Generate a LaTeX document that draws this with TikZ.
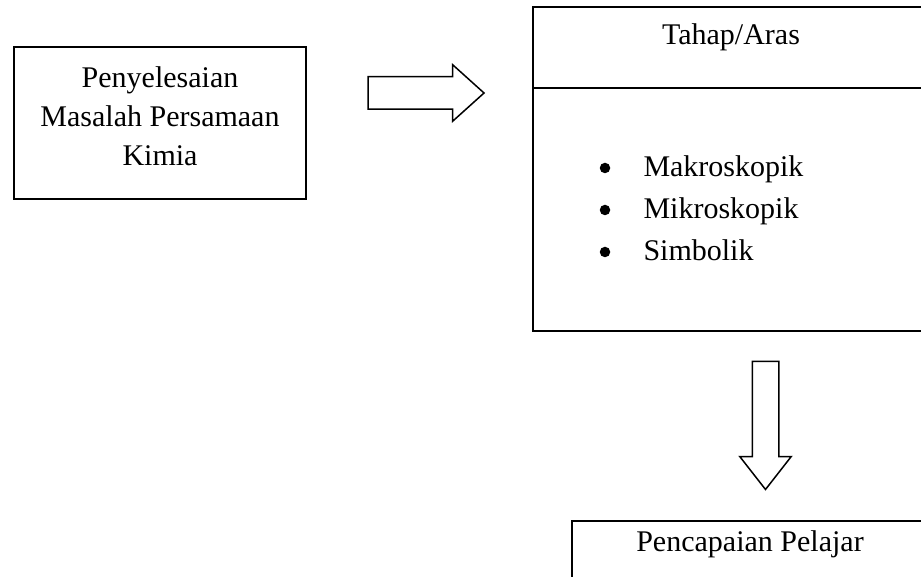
\documentclass[tikz,border=0pt]{standalone}
\usepackage{fontspec}
\setmainfont{Liberation Serif}
\usetikzlibrary{positioning}
\usetikzlibrary{shapes.arrows}

\begin{document}
\begin{tikzpicture}[x=0.4pt, y=-0.4pt,
  font=\fontsize{12}{15.6}\selectfont,
  box/.style={draw, line width=.6pt, inner sep=0, outer sep=0},
  txt/.style={inner sep=0, align=center},
  dot/.style={circle, fill, inner sep=0, minimum size=4.2pt},
  bigarrow/.style={draw, line width=.6pt, single arrow, inner xsep=0, outer sep=0, minimum width=0pt}]
\useasboundingbox (0,0) rectangle (921,577);
\clip (0,0) rectangle (921,577);
\node[box, minimum width=116.8pt, minimum height=60.8pt] (masalah) at (160,123) {};
\node[txt, anchor=north] (masalahtxt) at (160,66.5) {Penyelesaian\\Masalah Persamaan\\Kimia};
\node[bigarrow, minimum height=46.4pt, inner ysep=6.2pt, single arrow head extend=4.8pt, single arrow tip angle=84] (kanan) at (417,93) {};
\node[box, minimum width=158.4pt, minimum height=32.4pt] (arashead) at (731,47.5) {};
\node[box, minimum width=158.4pt, minimum height=97.2pt, below=0pt of arashead] (aras) {};
\node[txt, anchor=base] (arastxt) at (731,45) {Tahap/Aras};
\foreach \lvl [count=\i] in {Makroskopik,Mikroskopik,Simbolik} {
  \node[dot] (dot\i) at (605,126+42*\i) {};
  \node[txt, anchor=base west] (lvl\i) at (643,135+42*\i) {\lvl};
}
\node[bigarrow, rotate=-90, minimum height=51.2pt, inner ysep=5pt, single arrow head extend=5pt, single arrow tip angle=76] (bawah) at (765.5,417) {};
\node[box, minimum width=142.4pt, minimum height=32pt] (pelajar) at (750,561) {};
\node[txt, anchor=base] (pelajartxt) at (750,552) {Pencapaian Pelajar};
\end{tikzpicture}
\end{document}
